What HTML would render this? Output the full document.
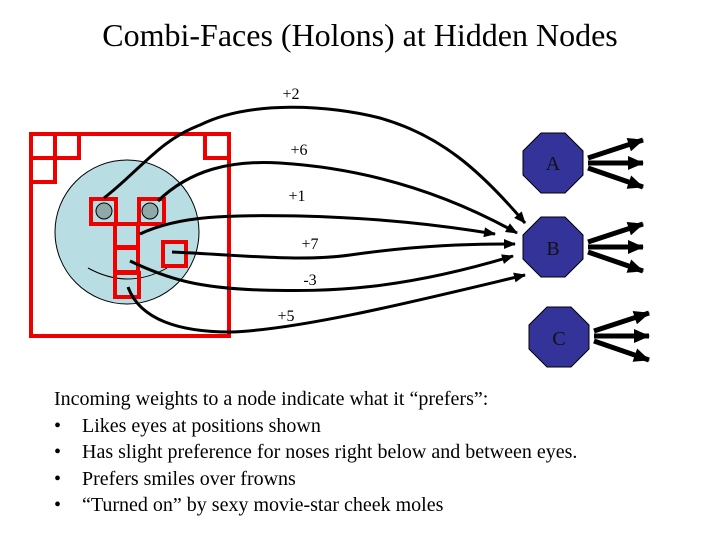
<!DOCTYPE html>
<html><head><meta charset="utf-8"><style>
body{margin:0;background:#fff;width:720px;height:540px;overflow:hidden;font-family:"Liberation Serif",serif}
.t{position:absolute;left:0;width:720px;text-align:center;top:17px;font-size:32px}
.b{position:absolute;left:54px;top:386px;font-size:20px;line-height:26.5px;white-space:nowrap}
.b span{display:inline-block;width:28px}
</style></head><body>
<div class="t">Combi-Faces (Holons) at Hidden Nodes</div>
<svg width="720" height="540" style="position:absolute;left:0;top:0">
<defs>
<marker id="m" markerWidth="12" markerHeight="10" refX="11" refY="5" orient="auto" markerUnits="userSpaceOnUse"><path d="M0,0L12,5L0,10z" fill="#000"/></marker>
<marker id="o" markerWidth="16" markerHeight="14" refX="15" refY="7" orient="auto" markerUnits="userSpaceOnUse"><path d="M0,0L16,7L0,14z" fill="#000"/></marker>
</defs>
<circle cx="127" cy="232" r="72" fill="#b8dde2" stroke="#000" stroke-width="1"/>
<path d="M88,268 Q128,290 167,268" fill="none" stroke="#000" stroke-width="1"/>
<g fill="none" stroke="#e00" stroke-width="4">
<rect x="31" y="134" width="198" height="202"/>
<rect x="31" y="134" width="24" height="24"/><rect x="55" y="134" width="24" height="24"/><rect x="31" y="158" width="24" height="24"/>
<rect x="205" y="134" width="24" height="24"/>
<rect x="91" y="199" width="25" height="25"/><rect x="139" y="199" width="25" height="25"/>
<rect x="115" y="224" width="23" height="23"/><rect x="115" y="248" width="23" height="24"/><rect x="115" y="273" width="24" height="24"/>
<rect x="163" y="242" width="23" height="24"/>
</g>
<circle cx="104" cy="211" r="8" fill="#8fa8a8" stroke="#000"/><circle cx="150" cy="211" r="8" fill="#8fa8a8" stroke="#000"/>
<g fill="none" stroke="#000" stroke-width="3" marker-end="url(#m)">
<path d="M104,198 C140,170 160,140 200,125 C250,100 330,105 380,118 C440,135 480,170 525,223"/>
<path d="M158,201 C190,170 230,160 280,163 C360,168 440,190 517,233"/>
<path d="M140,234 C180,215 230,215 300,216 C380,218 440,225 495,234"/>
<path d="M172,252 C240,255 300,262 350,255 C420,245 470,244 515,244"/>
<path d="M130,261 C170,280 200,288 260,290 C330,292 400,290 513,256"/>
<path d="M128,287 C140,320 180,332 230,332 C300,330 420,300 525,275"/>
</g>
<g fill="#333399" stroke="#000" stroke-width="1">
<polygon points="541,133 565,133 583,151 583,175 565,193 541,193 523,175 523,151"/>
<polygon points="541,217 565,217 583,235 583,259 565,277 541,277 523,259 523,235"/>
<polygon points="547,307 571,307 589,325 589,349 571,367 547,367 529,349 529,325"/>
</g>
<g font-size="20" fill="#111" text-anchor="middle"><text x="553" y="170">A</text><text x="553" y="255">B</text><text x="559" y="345">C</text></g>
<g stroke="#000" stroke-width="5" marker-end="url(#o)">
<path d="M588,158 L643,140"/><path d="M588,163 L643,163"/><path d="M588,168 L643,187"/>
<path d="M588,242 L643,224"/><path d="M588,247 L643,247"/><path d="M588,252 L643,271"/>
<path d="M594,331 L649,313"/><path d="M594,336 L649,336"/><path d="M594,341 L649,360"/>
</g>
<g font-size="16" text-anchor="middle"><text x="291" y="99">+2</text><text x="299" y="155">+6</text><text x="297" y="201">+1</text><text x="310" y="249">+7</text><text x="310" y="285">-3</text><text x="286" y="321">+5</text></g>
</svg>
<div class="b">Incoming weights to a node indicate what it “prefers”:<br><span>•</span>Likes eyes at positions shown<br><span>•</span>Has slight preference for noses right below and between eyes.<br><span>•</span>Prefers smiles over frowns<br><span>•</span>“Turned on” by sexy movie-star cheek moles</div>
</body></html>
